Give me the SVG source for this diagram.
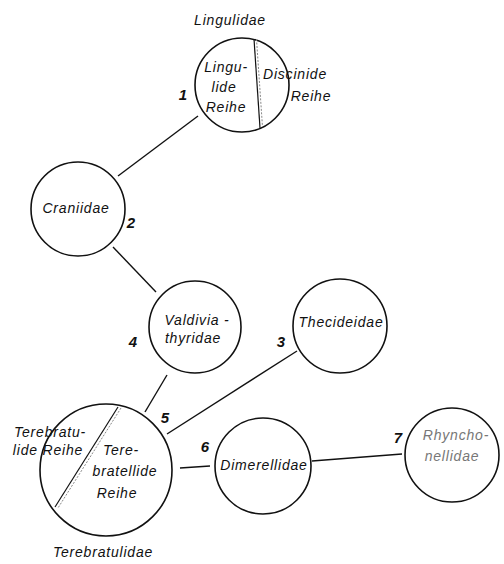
<svg xmlns="http://www.w3.org/2000/svg" width="504" height="564" viewBox="0 0 504 564">
<style>
  .bg { fill: #ffffff; }
  .node { fill: none; stroke: #111; stroke-width: 1.6; }
  .conn { stroke: #111; stroke-width: 1.4; fill: none; }
  .lbl { font-family: "Liberation Sans", Arial, sans-serif; font-style: italic; font-size: 14px; letter-spacing: 0.8px; fill: #111; text-anchor: middle; }
  .num { font-family: "Liberation Sans", Arial, sans-serif; font-style: italic; font-weight: bold; font-size: 15px; fill: #111; text-anchor: middle; }
  .faint { fill: #777; }
  .div1 { stroke: #111; stroke-width: 1.2; }
  .div2 { stroke: #888; stroke-width: 1; stroke-dasharray: 2 1.5; }
</style>
<rect class="bg" x="0" y="0" width="504" height="564"/>

<g id="connectors">
  <line class="conn" x1="118" y1="176" x2="198" y2="116"/>
  <line class="conn" x1="113" y1="247" x2="156" y2="292"/>
  <line class="conn" x1="167" y1="375" x2="145" y2="412"/>
  <line class="conn" x1="297" y1="351" x2="167" y2="434"/>
  <line class="conn" x1="180" y1="468" x2="210" y2="466"/>
  <line class="conn" x1="312" y1="461" x2="402" y2="454"/>
</g>

<g id="node-lingulidae">
  <circle class="node" cx="242" cy="85" r="47"/>
  <line class="div1" x1="254" y1="39" x2="260" y2="128"/>
  <line class="div2" x1="256.5" y1="39" x2="262.5" y2="127"/>
  <text class="lbl" x="230" y="25">Lingulidae</text>
  <text class="lbl" x="226" y="72">Lingu-</text>
  <text class="lbl" x="224" y="92">lide</text>
  <text class="lbl" x="226" y="112">Reihe</text>
  <text class="lbl" x="295" y="79">Discinide</text>
  <text class="lbl" x="311" y="101">Reihe</text>
  <text class="num" x="183" y="100">1</text>
</g>

<g id="node-craniidae">
  <circle class="node" cx="78" cy="209" r="47"/>
  <text class="lbl" x="76" y="213">Craniidae</text>
  <text class="num" x="131" y="228">2</text>
</g>

<g id="node-thecideidae">
  <circle class="node" cx="340" cy="326" r="47"/>
  <text class="lbl" x="341" y="327">Thecideidae</text>
  <text class="num" x="281" y="347">3</text>
</g>

<g id="node-valdiviathyridae">
  <circle class="node" cx="195" cy="327" r="46"/>
  <text class="lbl" x="197" y="325">Valdivia -</text>
  <text class="lbl" x="193" y="343">thyridae</text>
  <text class="num" x="133" y="347">4</text>
</g>

<g id="node-terebratulidae">
  <circle class="node" cx="106" cy="470" r="66"/>
  <line class="div1" x1="118" y1="407" x2="55" y2="507"/>
  <line class="div2" x1="121" y1="408" x2="58" y2="508"/>
  <text class="lbl" x="50" y="437">Terebratu-</text>
  <text class="lbl" x="48" y="455">lide Reihe</text>
  <text class="lbl" x="121" y="455">Tere-</text>
  <text class="lbl" x="125" y="476">bratellide</text>
  <text class="lbl" x="117" y="498">Reihe</text>
  <text class="lbl" x="103" y="557">Terebratulidae</text>
  <text class="num" x="165" y="423">5</text>
</g>

<g id="node-dimerellidae">
  <circle class="node" cx="263" cy="466" r="48"/>
  <text class="lbl" x="264" y="470">Dimerellidae</text>
  <text class="num" x="205" y="452">6</text>
</g>

<g id="node-rhynchonellidae">
  <circle class="node" cx="452" cy="455" r="47"/>
  <text class="lbl faint" x="456" y="440">Rhyncho-</text>
  <text class="lbl faint" x="452" y="461">nellidae</text>
  <text class="num" x="398" y="443">7</text>
</g>
</svg>
